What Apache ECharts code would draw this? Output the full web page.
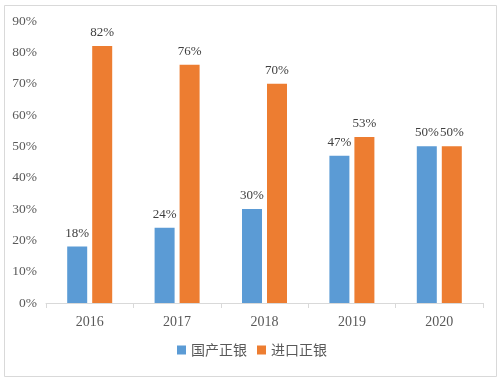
<!DOCTYPE html>
<html><head><meta charset="utf-8">
<script src="https://cdn.jsdelivr.net/npm/echarts@6/dist/echarts.min.js"></script>
<style>html,body{margin:0;padding:0;background:#fff}#c{width:504px;height:381px}</style>
</head><body><div id="c"></div>
<script>
var years = ['2016','2017','2018','2019','2020'];
var domestic = [18,24,30,47,50];
var imported = [82,76,70,53,50];
var seriesNames = ['国产正银','进口正银'];
var serif = '"Liberation Serif","DejaVu Serif",serif';
var chart = echarts.init(document.getElementById('c'));
chart.setOption({
  animation:false,
  backgroundColor:'#fff',
  graphic:[{type:'rect',shape:{x:4.5,y:5.5,width:492,height:371},style:{fill:'none',stroke:'#d9d9d9',lineWidth:1}}],
  grid:{left:46,right:21,top:21,bottom:78},
  legend:{data:seriesNames,bottom:19,left:'center',itemWidth:9,itemHeight:9,itemGap:10,icon:'rect',
    textStyle:{fontFamily:'"Noto Sans CJK SC",sans-serif',fontSize:14,color:'#595959'}},
  xAxis:{type:'category',data:years,
    axisLine:{lineStyle:{color:'#d9d9d9'}},
    axisTick:{show:true,length:5,lineStyle:{color:'#d9d9d9'}},
    axisLabel:{fontFamily:serif,fontSize:14,color:'#595959',margin:12}},
  yAxis:{type:'value',min:0,max:90,interval:10,
    axisLabel:{formatter:'{value}%',fontFamily:serif,fontSize:13.5,color:'#595959',margin:9},
    splitLine:{show:false},axisLine:{show:false},axisTick:{show:false}},
  series:[
    {name:seriesNames[0],type:'bar',data:domestic,barWidth:20,barGap:'25%',itemStyle:{color:'#5b9bd5'},
     label:{show:true,position:'top',distance:7,formatter:'{c}%',fontFamily:serif,fontSize:13,color:'#404040'}},
    {name:seriesNames[1],type:'bar',data:imported,barWidth:20,barGap:'25%',itemStyle:{color:'#ed7d31'},
     label:{show:true,position:'top',distance:7,formatter:'{c}%',fontFamily:serif,fontSize:13,color:'#404040'}}
  ]
});
</script></body></html>
